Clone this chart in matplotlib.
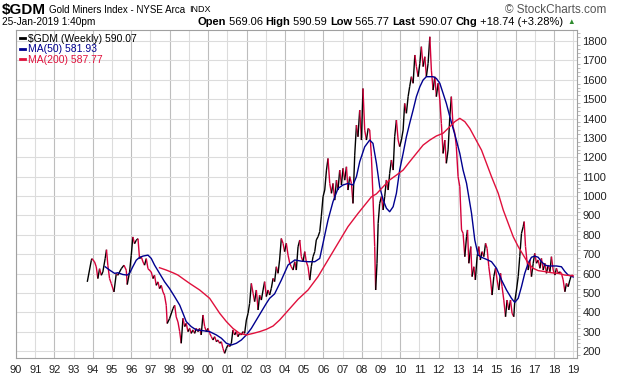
import numpy as np
import matplotlib
matplotlib.use('Agg')
import matplotlib.pyplot as plt
from matplotlib.collections import LineCollection
from matplotlib.lines import Line2D

plt.rcParams['font.family'] = ['Liberation Sans', 'DejaVu Sans']

# weekly closes (decimal year, index value)
price_t = [1993.71, 1993.92, 1993.95, 1994.09, 1994.18, 1994.26, 1994.35, 1994.44, 1994.52, 1994.64,
           1994.71, 1994.78, 1994.87, 1994.96, 1995.10, 1995.22, 1995.30, 1995.48, 1995.62, 1995.74,
           1995.79, 1995.91, 1996.00, 1996.08, 1996.17, 1996.26, 1996.35, 1996.43, 1996.52, 1996.61,
           1996.69, 1996.78, 1996.87, 1997.04, 1997.13, 1997.21, 1997.30, 1997.39, 1997.47, 1997.56,
           1997.65, 1997.73, 1997.82, 1997.87, 1997.99, 1998.17, 1998.26, 1998.34, 1998.43, 1998.52,
           1998.60, 1998.69, 1998.78, 1998.86, 1998.95, 1999.04, 1999.12, 1999.21, 1999.30, 1999.38,
           1999.47, 1999.56, 1999.64, 1999.73, 1999.82, 1999.91, 1999.99, 2000.08, 2000.17, 2000.25,
           2000.34, 2000.43, 2000.51, 2000.60, 2000.69, 2000.77, 2000.86, 2000.95, 2001.03, 2001.12,
           2001.21, 2001.29, 2001.38, 2001.47, 2001.55, 2001.64, 2001.73, 2001.81, 2001.90, 2001.99,
           2002.08, 2002.16, 2002.25, 2002.34, 2002.42, 2002.51, 2002.60, 2002.68, 2002.77, 2002.86,
           2002.94, 2003.03, 2003.12, 2003.20, 2003.29, 2003.38, 2003.46, 2003.55, 2003.64, 2003.72,
           2003.81, 2003.90, 2003.98, 2004.07, 2004.16, 2004.25, 2004.33, 2004.42, 2004.51, 2004.59,
           2004.68, 2004.77, 2004.85, 2004.94, 2005.03, 2005.11, 2005.20, 2005.29, 2005.37, 2005.46,
           2005.55, 2005.63, 2005.72, 2005.81, 2005.89, 2005.98, 2006.07, 2006.16, 2006.24, 2006.33,
           2006.42, 2006.50, 2006.59, 2006.68, 2006.76, 2006.85, 2006.94, 2007.02, 2007.11, 2007.20,
           2007.28, 2007.37, 2007.46, 2007.54, 2007.63, 2007.72, 2007.80, 2007.89, 2007.98, 2008.06,
           2008.15, 2008.24, 2008.33, 2008.41, 2008.50, 2008.58, 2008.67, 2008.72, 2008.79, 2008.85,
           2008.93, 2009.02, 2009.11, 2009.19, 2009.28, 2009.37, 2009.45, 2009.54, 2009.63, 2009.71,
           2009.80, 2009.89, 2009.97, 2010.06, 2010.15, 2010.23, 2010.32, 2010.41, 2010.49, 2010.58,
           2010.67, 2010.76, 2010.84, 2010.93, 2011.02, 2011.10, 2011.19, 2011.28, 2011.36, 2011.45,
           2011.54, 2011.62, 2011.71, 2011.80, 2011.88, 2011.97, 2012.06, 2012.14, 2012.23, 2012.32,
           2012.40, 2012.49, 2012.58, 2012.66, 2012.75, 2012.84, 2012.92, 2013.01, 2013.10, 2013.19,
           2013.27, 2013.36, 2013.45, 2013.50, 2013.57, 2013.67, 2013.74, 2013.83, 2013.91, 2014.00,
           2014.09, 2014.17, 2014.26, 2014.35, 2014.44, 2014.52, 2014.61, 2014.70, 2014.78, 2014.87,
           2014.96, 2015.04, 2015.13, 2015.22, 2015.30, 2015.39, 2015.48, 2015.56, 2015.65, 2015.74,
           2015.82, 2015.91, 2015.96, 2016.05, 2016.14, 2016.22, 2016.31, 2016.40, 2016.45, 2016.52,
           2016.59, 2016.66, 2016.74, 2016.83, 2016.92, 2017.00, 2017.09, 2017.18, 2017.27, 2017.35,
           2017.44, 2017.53, 2017.61, 2017.70, 2017.79, 2017.87, 2017.96, 2018.05, 2018.13, 2018.22,
           2018.31, 2018.39, 2018.48, 2018.57, 2018.65, 2018.74, 2018.83, 2018.91, 2019.00]
price_v = [557, 668, 677, 660, 634, 574, 625, 591, 608, 677,
           723, 643, 574, 548, 505, 600, 591, 625, 643, 617,
           543, 608, 694, 789, 754, 772, 780, 677, 686, 660,
           643, 677, 625, 608, 574, 591, 539, 557, 522, 539,
           505, 488, 436, 342, 367, 419, 436, 376, 350, 300,
           240, 369, 326, 343, 300, 317, 291, 309, 291, 317,
           300, 317, 283, 386, 326, 300, 317, 291, 274, 257,
           274, 248, 257, 240, 248, 214, 188, 214, 231, 223,
           240, 309, 283, 300, 274, 291, 283, 300, 291, 360,
           395, 446, 549, 498, 455, 515, 412, 489, 463, 515,
           558, 481, 515, 489, 524, 575, 558, 635, 601, 670,
           781, 756, 713, 756, 695, 652, 635, 618, 661, 618,
           738, 773, 687, 661, 713, 661, 635, 566, 635, 687,
           713, 773, 790, 816, 893, 996, 1031, 1134, 1194, 1065,
           1014, 1065, 979, 1082, 1031, 1134, 1057, 1143, 1082, 1151,
           1031, 1100, 1065, 962, 1211, 1366, 1306, 1444, 1289, 1555,
           1340, 1289, 1349, 1341, 1203, 997, 739, 515, 653, 859,
           962, 997, 928, 997, 1083, 1031, 1117, 1186, 1134, 1306,
           1392, 1289, 1255, 1289, 1341, 1478, 1427, 1513, 1564, 1616,
           1582, 1728, 1668, 1616, 1685, 1771, 1668, 1719, 1616, 1685,
           1822, 1650, 1547, 1616, 1513, 1582, 1496, 1375, 1220, 1289,
           1169, 1238, 1410, 1513, 1358, 1324, 1255, 1100, 1048, 825,
           808, 687, 790, 825, 653, 739, 584, 635, 567, 687,
           739, 670, 713, 687, 756, 730, 635, 567, 489, 584,
           627, 567, 515, 601, 532, 463, 377, 463, 412, 463,
           395, 377, 455, 515, 584, 687, 807, 842, 868, 739,
           670, 618, 670, 584, 653, 704, 653, 670, 627, 678,
           618, 653, 601, 644, 609, 687, 618, 592, 627, 601,
           609, 601, 567, 506, 549, 532, 567, 592, 590]

ma50_t = [1994.64, 1994.87, 1995.13, 1995.30, 1995.56, 1995.79, 1995.91, 1996.08, 1996.26, 1996.43,
          1996.61, 1996.87, 1997.04, 1997.21, 1997.47, 1997.73, 1997.99, 1998.26, 1998.52, 1998.69,
          1998.86, 1999.12, 1999.38, 1999.73, 2000.08, 2000.43, 2000.69, 2000.95, 2001.21, 2001.47,
          2001.73, 2001.99, 2002.25, 2002.51, 2002.77, 2003.03, 2003.20, 2003.46, 2003.81, 2004.16,
          2004.51, 2004.85, 2005.20, 2005.55, 2005.81, 2005.98, 2006.24, 2006.50, 2006.76, 2007.02,
          2007.28, 2007.54, 2007.72, 2007.89, 2008.15, 2008.41, 2008.58, 2008.76, 2008.93, 2009.11,
          2009.28, 2009.45, 2009.63, 2009.80, 2009.97, 2010.15, 2010.32, 2010.49, 2010.67, 2010.84,
          2011.02, 2011.19, 2011.36, 2011.54, 2011.71, 2011.88, 2012.06, 2012.23, 2012.40, 2012.58,
          2012.75, 2012.92, 2013.10, 2013.27, 2013.45, 2013.71, 2013.88, 2014.05, 2014.23, 2014.49,
          2014.75, 2015.01, 2015.27, 2015.53, 2015.79, 2015.96, 2016.14, 2016.31, 2016.48, 2016.66,
          2016.83, 2017.00, 2017.18, 2017.35, 2017.53, 2017.70, 2017.87, 2018.13, 2018.39, 2018.57,
          2018.74, 2018.91, 2019.00]
ma50_v = [635, 618, 601, 604, 595, 592, 601, 635, 669, 683,
          690, 695, 678, 644, 601, 558, 523, 480, 437, 395,
          352, 326, 309, 305, 300, 283, 266, 240, 231, 240,
          257, 283, 317, 360, 403, 446, 472, 495, 566, 644,
          670, 664, 661, 661, 678, 756, 876, 971, 1039, 1057,
          1065, 1057, 1100, 1177, 1254, 1289, 1272, 1169, 1048, 980,
          937, 919, 945, 1014, 1134, 1220, 1306, 1375, 1444, 1513,
          1564, 1599, 1616, 1616, 1616, 1607, 1582, 1530, 1478, 1410,
          1349, 1289, 1220, 1134, 1066, 911, 773, 696, 684, 673,
          661, 627, 567, 515, 472, 451, 472, 532, 601, 653,
          684, 690, 684, 661, 644, 639, 639, 639, 635, 610,
          592, 587, 582]

ma200_t = [1997.47, 1997.82, 1998.17, 1998.43, 1998.74, 1999.04, 1999.56, 2000.08, 2000.60, 2000.95,
           2001.29, 2001.64, 2001.99, 2002.34, 2002.68, 2003.03, 2003.38, 2003.72, 2004.68, 2005.20,
           2005.72, 2006.24, 2006.76, 2007.28, 2007.80, 2008.15, 2008.50, 2008.76, 2009.11, 2009.45,
           2009.80, 2010.15, 2010.49, 2010.84, 2011.19, 2011.54, 2011.88, 2012.23, 2012.58, 2012.84,
           2013.10, 2013.36, 2013.62, 2014.23, 2014.75, 2015.10, 2015.36, 2015.62, 2015.88, 2016.14,
           2016.40, 2016.66, 2016.92, 2017.18, 2017.53, 2017.87, 2018.22, 2018.57, 2018.91, 2019.00]
ma200_v = [630, 618, 604, 592, 570, 549, 515, 472, 395, 352,
           317, 291, 283, 291, 300, 312, 329, 360, 467, 515,
           584, 670, 756, 842, 910, 953, 996, 1011, 1048, 1083,
           1108, 1134, 1177, 1220, 1263, 1289, 1310, 1324, 1358, 1384,
           1401, 1384, 1349, 1237, 1100, 1014, 928, 859, 790, 739,
           696, 653, 627, 615, 610, 604, 601, 592, 589, 588]

years = list(range(1990, 2020))
year_labels = ['%02d' % (y % 100) for y in years]

UP = 'black'
DOWN = '#d4003a'
MA50_COLOR = '#00008f'
MA200_COLOR = '#e0103c'

fig = plt.figure(figsize=(6.2, 3.76), dpi=100)
ax = fig.add_axes([16 / 620, 18 / 376, 561 / 620, 328 / 376])

# price line, segment colour by direction (black up, red down)
pts = np.column_stack([price_t, price_v])
segs = np.stack([pts[:-1], pts[1:]], axis=1)
cols = [UP if b >= a else DOWN for a, b in zip(price_v[:-1], price_v[1:])]
ax.add_collection(LineCollection(segs, colors=cols, linewidths=1.0, zorder=3))

ax.plot(ma50_t, ma50_v, color=MA50_COLOR, lw=1.0, zorder=4)
ax.plot(ma200_t, ma200_v, color=MA200_COLOR, lw=1.0, zorder=4)

ax.set_xlim(1990, 2019.2)
ax.set_ylim(164, 1857)

ax.set_xticks(years)
ax.set_xticklabels(year_labels)
ax.set_yticks(range(200, 1801, 100))
ax.set_yticks(range(180, 1860, 20), minor=True)
ax.yaxis.tick_right()
ax.grid(True, which='major', color='#dcdcdc', lw=0.8, zorder=0)
for i, gl in enumerate(ax.get_xgridlines()):
    if years[i] % 2 == 0:
        gl.set_color('#bdbdbd')
ax.set_axisbelow(True)

ax.tick_params(axis='x', length=0, labelsize=8, pad=5, colors='#222222')
ax.tick_params(axis='y', which='major', length=0, labelsize=8, pad=4, colors='#222222')
ax.tick_params(axis='y', which='minor', length=2, width=0.6, color='#b0b0b0', right=True, left=False)
for s in ax.spines.values():
    s.set_color('#a0a0a0')
    s.set_linewidth(0.8)

handles = [Line2D([], [], color=UP, lw=2),
           Line2D([], [], color=MA50_COLOR, lw=2),
           Line2D([], [], color=MA200_COLOR, lw=2)]
labels = ['$GDM (Weekly) 590.07', 'MA(50) 581.93', 'MA(200) 587.77']
ax.legend(handles, labels, loc='upper left', frameon=False, fontsize=7.5,
          handlelength=0.5, handletextpad=0.3, labelspacing=0.05,
          borderaxespad=0.15, borderpad=0.2,
          labelcolor=[UP, MA50_COLOR, MA200_COLOR])

# header
row1 = 1 - 10 / 376
row2 = 1 - 22 / 376
fig.canvas.draw()
r = fig.canvas.get_renderer()
fig.text(2 / 620, row1, '$GDM', fontsize=11, fontweight='bold', va='center')
name = fig.text(49 / 620, row1, 'Gold Miners Index - NYSE Arca', fontsize=7, va='center')
x = 49 / 620 + name.get_window_extent(r).width / fig.bbox.width + 4 / 620
fig.text(x, row1, 'INDX', fontsize=6.5, va='center')
fig.text(606 / 620, row1, '\u00a9 StockCharts.com', fontsize=8.5, va='center',
         ha='right', color='#555555')
fig.text(2 / 620, row2, '25-Jan-2019 1:40pm', fontsize=7.3, va='center')

parts = [('Open', 'bold'), (' 569.06 ', 'normal'), ('High', 'bold'), (' 590.59 ', 'normal'),
         ('Low', 'bold'), (' 565.77 ', 'normal'), ('Last', 'bold'), (' 590.07 ', 'normal'),
         ('Chg', 'bold'), (' +18.74 (+3.28%)', 'normal')]
x = 197 / 620
for txt, w in parts:
    t = fig.text(x, row2, txt, fontsize=8, fontweight=w, va='center')
    x += t.get_window_extent(r).width / fig.bbox.width
fig.text(x + 4 / 620, row2, '\u25b2', fontsize=5.5, color='#2e8b2e', va='center')

fig.savefig('out.png', dpi=100)
